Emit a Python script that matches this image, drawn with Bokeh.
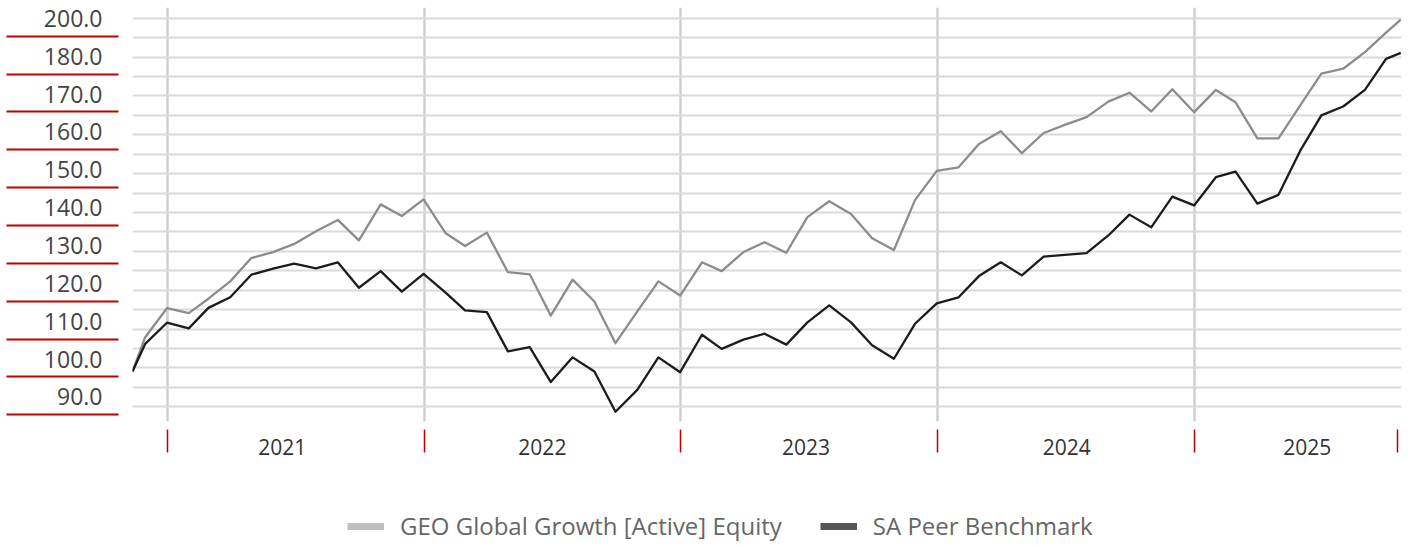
import numpy as np
import pandas as pd
from bokeh.plotting import figure
from bokeh.layouts import column
from bokeh.models import FixedTicker, Legend, LegendItem, Range1d
from bokeh.embed import file_html
from bokeh.resources import INLINE

# ---------------- data ----------------
series_names = ["GEO Global Growth [Active] Equity", "SA Peer Benchmark"]

start_date = "2020-11-12"
end_date = "2025-10-21"
month_end_dates = list(pd.date_range("2020-11-30", periods=59, freq=pd.offsets.MonthEnd()).strftime("%Y-%m-%d"))
dates = [start_date] + month_end_dates + [end_date]

geo_values = [100.0, 109.7, 117.9, 116.5, 120.6, 125.5, 132.1, 133.8, 136.1, 139.7,
              142.9, 137.1, 147.3, 144.0, 148.7, 139.2, 135.5, 139.3, 128.1, 127.5,
              115.8, 126.0, 119.8, 108.0, 117.0, 125.5, 121.5, 130.9, 128.4, 133.8,
              136.6, 133.6, 143.7, 148.2, 144.6, 137.7, 134.4, 148.5, 156.8, 157.8,
              164.4, 168.0, 161.8, 167.5, 169.8, 172.0, 176.4, 178.9, 173.6, 179.9,
              173.4, 179.7, 176.2, 166.0, 166.0, 175.3, 184.3, 185.7, 190.4, 195.9,
              199.6]

sa_values = [100.0, 107.8, 113.8, 112.2, 118.0, 121.0, 127.4, 129.1, 130.5, 129.2,
             130.9, 123.7, 128.4, 122.6, 127.6, 122.4, 117.3, 116.8, 105.7, 106.9,
             97.0, 104.0, 100.0, 88.6, 94.8, 104.0, 99.8, 110.4, 106.4, 109.0,
             110.7, 107.6, 113.9, 118.7, 113.9, 107.4, 103.6, 113.5, 119.3, 121.0,
             127.0, 130.9, 127.2, 132.5, 133.0, 133.5, 138.5, 144.4, 140.8, 149.5,
             147.0, 155.0, 156.6, 147.5, 150.0, 162.5, 172.5, 175.0, 179.7, 188.5,
             190.2]

year_labels = ["2021", "2022", "2023", "2024", "2025"]
year_label_dates = ["2021-06-13", "2022-06-18", "2023-06-28", "2024-07-03", "2025-06-10"]
year_boundary_dates = ["2021-01-01", "2022-01-01", "2023-01-01", "2024-01-01", "2025-01-01"]
last_tick_date = "2025-10-16"

ytick_labels = ["200.0", "180.0", "170.0", "160.0", "150.0", "140.0",
                "130.0", "120.0", "110.0", "100.0", "90.0"]

# ---------------- helpers ----------------
def to_ms(lst):
    return [float(v) for v in (pd.to_datetime(lst).astype("int64") // 10**6)]

x = to_ms(dates)
x_start = to_ms([start_date])[0]
x_end = to_ms(["2025-10-22"])[0]

ylab_pos = [round(float(v), 3) for v in np.linspace(199.94, 92.78, len(ytick_labels))]
yred_pos = [round(v - 5.04, 3) for v in ylab_pos]
ygrid_pos = [round(float(v), 3) for v in np.linspace(90, 200, 21)]

year_label_ms = to_ms(year_label_dates)
year_boundary_ms = to_ms(year_boundary_dates)
red_x_ticks = year_boundary_ms + to_ms([last_tick_date])

FONT = "Open Sans"
RED = "#c00000"
LEFT = 132

p = figure(width=1410, height=480, output_backend="svg", toolbar_location=None,
           x_range=Range1d(x_start, x_end), y_range=Range1d(85.84, 203.03),
           min_border_left=LEFT, min_border_right=9, min_border_top=7,
           min_border_bottom=59)
p.outline_line_color = None
p.background_fill_color = "white"
p.border_fill_color = "white"

# grids
p.ygrid.ticker = FixedTicker(ticks=ygrid_pos)
p.ygrid.grid_line_color = "#dadada"
p.ygrid.grid_line_width = 2
p.xgrid.ticker = FixedTicker(ticks=year_boundary_ms)
p.xgrid.grid_line_color = "#cfcfcf"
p.xgrid.grid_line_width = 2.5

# y axis: labels in bands, red separators as minor ticks
ya = p.yaxis[0]
ya.ticker = FixedTicker(ticks=ylab_pos, minor_ticks=yred_pos)
ya.major_label_overrides = {v: t for v, t in zip(ylab_pos, ytick_labels)}
ya.axis_line_color = None
ya.major_tick_line_color = None
ya.major_tick_in = 0
ya.major_tick_out = 0
ya.minor_tick_line_color = RED
ya.minor_tick_line_width = 2
ya.minor_tick_out = LEFT - 6
ya.minor_tick_in = -14
ya.major_label_standoff = 30 - (LEFT - 6)
ya.major_label_text_font = FONT
ya.major_label_text_font_size = "23px"
ya.major_label_text_color = "#444444"

# x axis: year labels, red separators as minor ticks
xa = p.xaxis[0]
xa.ticker = FixedTicker(ticks=year_label_ms, minor_ticks=red_x_ticks)
xa.major_label_overrides = {v: t for v, t in zip(year_label_ms, year_labels)}
xa.axis_line_color = None
xa.major_tick_line_color = None
xa.major_tick_in = 0
xa.major_tick_out = 0
xa.minor_tick_line_color = RED
xa.minor_tick_line_width = 1.5
xa.minor_tick_in = -8
xa.minor_tick_out = 31
xa.major_label_standoff = -14
xa.major_label_text_font = FONT
xa.major_label_text_font_size = "21px"
xa.major_label_text_color = "#333333"

# series
p.line(x, geo_values, line_color="#8c8c8c", line_width=2.3, line_join="round")
p.line(x, sa_values, line_color="#1c1c1c", line_width=2.3, line_join="round")

# ---------------- legend strip ----------------
lf = figure(width=1410, height=67, output_backend="svg", toolbar_location=None,
            x_range=Range1d(0, 1), y_range=Range1d(0, 1),
            x_axis_location=None, y_axis_location=None,
            min_border_left=LEFT, min_border_right=9, min_border_top=0,
            min_border_bottom=0)
lf.outline_line_color = None
lf.xgrid.visible = False
lf.ygrid.visible = False
# swatch renderers (series data lie outside this strip's ranges, so only the legend shows)
leg_geo = lf.line(x, geo_values, line_color="#bfbfbf", line_width=7)
leg_sa = lf.line(x, sa_values, line_color="#555555", line_width=7)

legend = Legend(items=[LegendItem(label=series_names[0], renderers=[leg_geo]),
                       LegendItem(label=series_names[1], renderers=[leg_sa])],
                orientation="horizontal", location=(347 - LEFT, 5),
                glyph_width=37, glyph_height=20, label_standoff=16, spacing=38,
                padding=0, margin=0, border_line_color=None,
                background_fill_alpha=0,
                label_text_font=FONT, label_text_font_size="24px",
                label_text_color="#666666")
lf.add_layout(legend)

open("out.html", "w").write(file_html(column(p, lf), INLINE))
